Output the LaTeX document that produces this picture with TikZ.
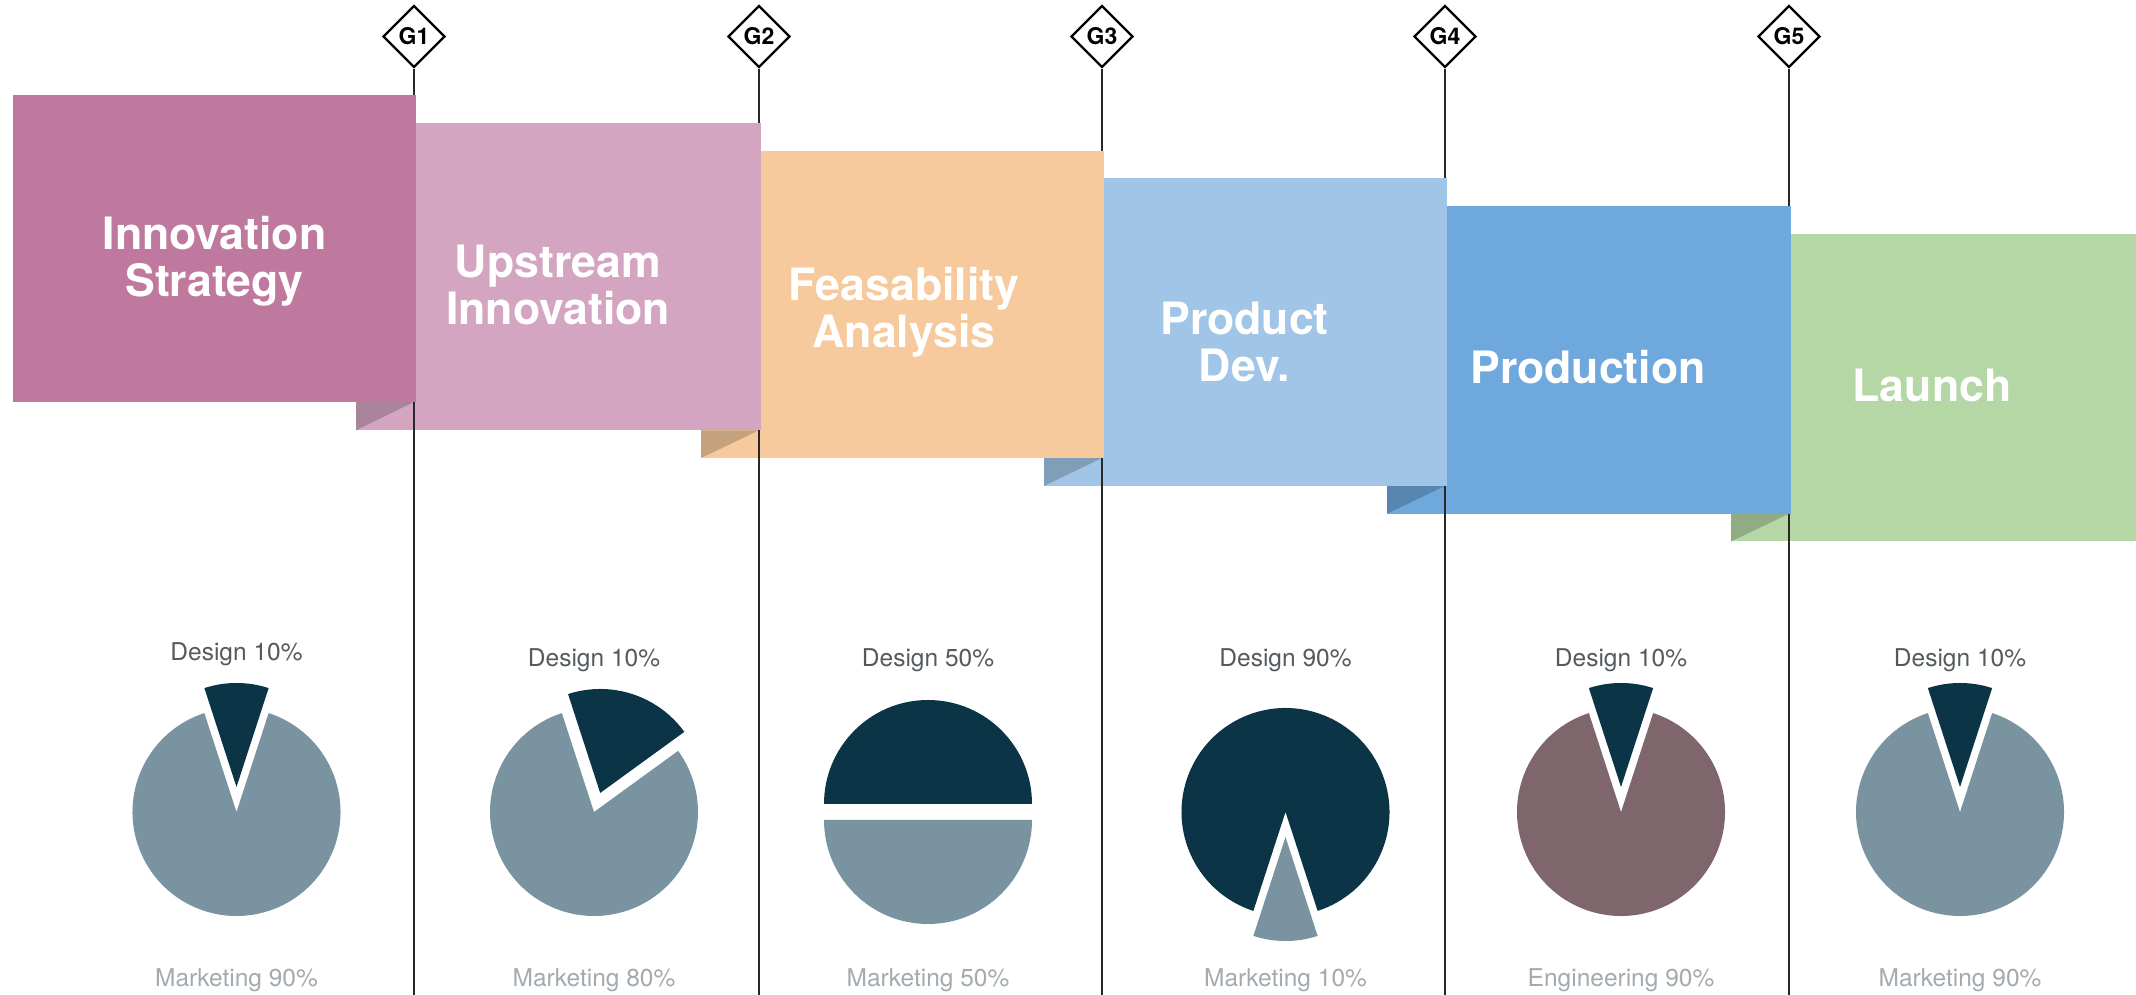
\documentclass[tikz,border=0pt]{standalone}
\usepackage{fontspec}
\setmainfont{TeX Gyre Heros}
\usetikzlibrary{shapes.geometric}

% stage banner colours
\definecolor{bOne}{RGB}{192,121,158}
\definecolor{bTwo}{RGB}{212,165,192}
\definecolor{bThree}{RGB}{246,202,157}
\definecolor{bFour}{RGB}{160,197,230}
\definecolor{bFive}{RGB}{111,168,220}
\definecolor{bSix}{RGB}{181,215,165}
% pie colours
\definecolor{pieLight}{RGB}{122,147,161}
\definecolor{pieDark}{RGB}{11,52,70}
\definecolor{pieMauve}{RGB}{126,102,108}
% label colours
\definecolor{labDark}{RGB}{84,90,94}
\definecolor{labLight}{RGB}{163,171,176}
\definecolor{gateInk}{RGB}{40,40,40}

\tikzset{
  gate/.style={diamond, draw=black, line width=2.4pt, fill=white, inner sep=0pt,
    minimum width=62pt, minimum height=62pt,
    font=\fontsize{23}{23}\selectfont\bfseries},
  gateline/.style={draw=gateInk, line width=2.6pt},
  stagetext/.style={anchor=base, inner sep=0pt, text=white,
    font=\fontsize{44.6}{46}\selectfont\bfseries},
  toplabel/.style={anchor=base, inner sep=0pt, text=labDark,
    font=\fontsize{24.5}{25}\selectfont},
  botlabel/.style={anchor=base, inner sep=0pt, text=labLight,
    font=\fontsize{24.5}{25}\selectfont},
}

\begin{document}
\begin{tikzpicture}[x=1pt, y=1pt]
\fill[white] (0,0) rectangle (2136,995);
\useasboundingbox (0,0) rectangle (2136,995);

% gate markers and the foot of each gate line
\node[gate] (g1) at (414,958.5) {G1};
\node[gate] (g2) at (759,958.5) {G2};
\node[gate] (g3) at (1102,958.5) {G3};
\node[gate] (g4) at (1445,958.5) {G4};
\node[gate] (g5) at (1789,958.5) {G5};
\coordinate (g1end) at (414,0);
\coordinate (g2end) at (759,0);
\coordinate (g3end) at (1102,0);
\coordinate (g4end) at (1445,0);
\coordinate (g5end) at (1789,0);

% banners, back to front, each gate line between its two banners
\fill[bSix] (1731,453.5) rectangle (2136,761);
\fill[bSix!80!black] (1731,481.3) -- (1789,481.3) -- (1731,453.5) -- cycle;
\draw[gateline] (g5.south) -- (g5end);

\fill[bFive] (1387,481.3) rectangle (1790.5,788.8);
\fill[bFive!80!black] (1387,509.1) -- (1445,509.1) -- (1387,481.3) -- cycle;
\draw[gateline] (g4.south) -- (g4end);

\fill[bFour] (1044,509.1) rectangle (1446.5,816.6);
\fill[bFour!80!black] (1044,536.9) -- (1102,536.9) -- (1044,509.1) -- cycle;
\draw[gateline] (g3.south) -- (g3end);

\fill[bThree] (701,536.9) rectangle (1103.5,844.4);
\fill[bThree!80!black] (701,564.7) -- (759,564.7) -- (701,536.9) -- cycle;
\draw[gateline] (g2.south) -- (g2end);

\fill[bTwo] (356,564.7) rectangle (760.5,872.2);
\fill[bTwo!80!black] (356,593) -- (414,593) -- (356,564.7) -- cycle;
\draw[gateline] (g1.south) -- (g1end);

\fill[bOne] (13,593) rectangle (415.5,900);

% stage names
\node[stagetext] (s1a) at (214.5,745) {Innovation};
\node[stagetext] (s1b) at (214.5,698) {Strategy};
\node[stagetext] (s2a) at (558,717) {Upstream};
\node[stagetext] (s2b) at (558,670) {Innovation};
\node[stagetext] (s3a) at (904,694) {Feasability};
\node[stagetext] (s3b) at (904,647) {Analysis};
\node[stagetext] (s4a) at (1244.5,660) {Product};
\node[stagetext] (s4b) at (1244.5,613) {Dev.};
\node[stagetext] (s5) at (1588,611) {Production};
\node[stagetext] (s6) at (1932,593) {Launch};

% pie centres
\coordinate (p1) at (236.5,183);
\coordinate (p2) at (594,183);
\coordinate (p3) at (928,183);
\coordinate (p4) at (1285.5,183);
\coordinate (p5) at (1621,183);
\coordinate (p6) at (1960,183);

% pie 1: design 10 / marketing 90
\fill[pieLight] (p1) -- ++(108:104) arc[start angle=108, end angle=432, radius=104] -- cycle;
\fill[pieDark] ([shift={(90:25)}]p1) -- ++(72:104) arc[start angle=72, end angle=108, radius=104] -- cycle;
% pie 2: design slice 20 / marketing 80
\fill[pieLight] (p2) -- ++(108:104) arc[start angle=108, end angle=396, radius=104] -- cycle;
\fill[pieDark] ([shift={(72:20)}]p2) -- ++(36:104) arc[start angle=36, end angle=108, radius=104] -- cycle;
% pie 3: halves
\fill[pieDark] ([shift={(90:8)}]p3) -- ++(0:104) arc[start angle=0, end angle=180, radius=104] -- cycle;
\fill[pieLight] ([shift={(270:8)}]p3) -- ++(180:104) arc[start angle=180, end angle=360, radius=104] -- cycle;
% pie 4: design 90 / marketing 10
\fill[pieDark] (p4) -- ++(288:104) arc[start angle=288, end angle=612, radius=104] -- cycle;
\fill[pieLight] ([shift={(270:25)}]p4) -- ++(252:104) arc[start angle=252, end angle=288, radius=104] -- cycle;
% pie 5: design 10 / engineering 90
\fill[pieMauve] (p5) -- ++(108:104) arc[start angle=108, end angle=432, radius=104] -- cycle;
\fill[pieDark] ([shift={(90:25)}]p5) -- ++(72:104) arc[start angle=72, end angle=108, radius=104] -- cycle;
% pie 6: design 10 / marketing 90
\fill[pieLight] (p6) -- ++(108:104) arc[start angle=108, end angle=432, radius=104] -- cycle;
\fill[pieDark] ([shift={(90:25)}]p6) -- ++(72:104) arc[start angle=72, end angle=108, radius=104] -- cycle;

% share labels
\node[toplabel] (d1) at (236.5,334) {Design 10\%};
\node[toplabel] (d2) at (594,328) {Design 10\%};
\node[toplabel] (d3) at (928,328) {Design 50\%};
\node[toplabel] (d4) at (1285.5,328) {Design 90\%};
\node[toplabel] (d5) at (1621,328) {Design 10\%};
\node[toplabel] (d6) at (1960,328) {Design 10\%};
\node[botlabel] (m1) at (236.5,8) {Marketing 90\%};
\node[botlabel] (m2) at (594,8) {Marketing 80\%};
\node[botlabel] (m3) at (928,8) {Marketing 50\%};
\node[botlabel] (m4) at (1285.5,8) {Marketing 10\%};
\node[botlabel] (m5) at (1621,8) {Engineering 90\%};
\node[botlabel] (m6) at (1960,8) {Marketing 90\%};
\end{tikzpicture}
\end{document}
